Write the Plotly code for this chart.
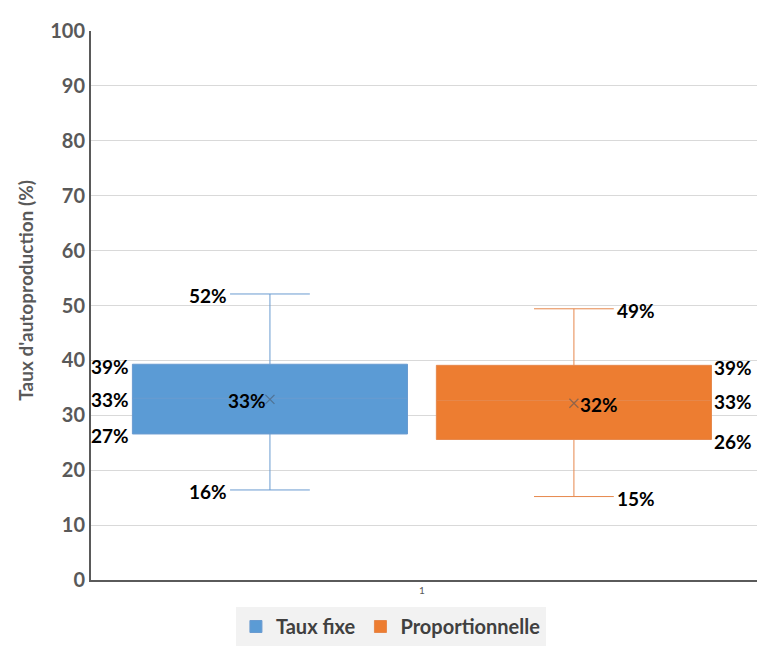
import plotly.graph_objects as go

# ---- data ----
series = ["Taux fixe", "Proportionnelle"]
category = ["1"]
lower_fence = [16.4, 15.2]
q1_vals = [26.6, 25.6]
median_vals = [33.1, 32.7]
q3_vals = [39.3, 39.1]
upper_fence = [52.1, 49.4]
mean_vals = [32.9, 32.2]
y_ticks = [0, 10, 20, 30, 40, 50, 60, 70, 80, 90, 100]
y_title = "Taux d'autoproduction (%)"

# ---- style ----
fill_colors = ["#5B9BD5", "#ED7D31"]
line_colors = ["#6a9bd0", "#e6884c"]
BOXGAP = 0.098
BOXGROUPGAP = 0.095
WHISKER = 0.29
FONT = "Lato, 'Open Sans', sans-serif"
LABEL_FONT = dict(family=FONT, size=19, color="#000000", weight="bold")
GREY = "#595959"

fig = go.Figure()
for i, name in enumerate(series):
    fig.add_trace(go.Box(
        name=name, x=category, offsetgroup=name,
        q1=[q1_vals[i]], median=[median_vals[i]], q3=[q3_vals[i]],
        lowerfence=[lower_fence[i]], upperfence=[upper_fence[i]],
        fillcolor=fill_colors[i], line=dict(color=line_colors[i], width=1),
        whiskerwidth=WHISKER, boxpoints=False, hoverinfo="skip",
    ))
for i, name in enumerate(series):
    fig.add_trace(go.Scatter(
        x=category, y=[mean_vals[i]], mode="markers", offsetgroup=name,
        marker=dict(symbol="x-thin-open", size=9, color="rgba(70,80,95,0.55)",
                    line=dict(color="rgba(70,80,95,0.55)", width=1.2)),
        showlegend=False, hoverinfo="skip",
    ))

def pct(v):
    return f"{round(v)}%"

n = len(series)
for i in range(n):
    center = 2 * 0.5 * (-0.5 + (i + 0.5) / n) * (1 - BOXGAP)
    half = 0.5 * (1 - BOXGAP) * (1 - BOXGROUPGAP) / n
    cap = half * WHISKER
    left = (i == 0)
    side = "right" if left else "left"
    for v in (upper_fence[i], lower_fence[i]):
        fig.add_annotation(x=center - cap if left else center + cap, y=v, text=pct(v),
                           xanchor=side, yanchor="middle", showarrow=False,
                           font=LABEL_FONT, xshift=-1 if left else 1, yshift=-2)
    for v, ys in ((q3_vals[i], -2), (median_vals[i], -1), (q1_vals[i], -2)):
        fig.add_annotation(x=center - half if left else center + half, y=v, text=pct(v),
                           xanchor=side, yanchor="middle", showarrow=False,
                           font=LABEL_FONT, xshift=-1 if left else 1, yshift=ys)
    fig.add_annotation(x=center, y=mean_vals[i], text=pct(mean_vals[i]),
                       xanchor=side, yanchor="middle", showarrow=False,
                       font=LABEL_FONT, xshift=-2 if left else 4, yshift=-1)

# y-axis title as a rotated annotation (slightly above the plot centre, as in the reference)
fig.add_annotation(xref="paper", yref="paper", x=-0.0964, y=0.527, text=y_title,
                   textangle=-90, showarrow=False, xanchor="center", yanchor="middle",
                   font=dict(size=19, color=GREY, family=FONT, weight="bold"))

# page body has an 8px default margin, so the figure is sized to fit the window
fig.update_layout(
    width=757, height=638,
    margin=dict(l=83, r=0, t=23, b=60),
    paper_bgcolor="white", plot_bgcolor="white",
    boxmode="group", boxgap=BOXGAP, boxgroupgap=BOXGROUPGAP,
    scattermode="group", scattergap=BOXGAP,
    showlegend=True,
    legend=dict(orientation="h", x=0.445, xanchor="center", y=-0.05, yanchor="top",
                bgcolor="#f2f2f2",
                font=dict(family=FONT, size=20, color="#404040", weight="bold"),
                itemwidth=30, tracegroupgap=0),
    font=dict(family=FONT),
)
fig.update_xaxes(type="category", range=[-0.491, 0.509], showgrid=False,
                 showline=True, linecolor="#5a5a5a", linewidth=2,
                 tickfont=dict(size=10, color=GREY), ticks="", zeroline=False, fixedrange=True)
fig.update_yaxes(range=[0, 100], tickvals=y_ticks, showgrid=True, gridcolor="#d9d9d9", gridwidth=1,
                 showline=True, linecolor="#5a5a5a", linewidth=2, zeroline=False,
                 tickfont=dict(size=20, color=GREY, family=FONT, weight="bold"),
                 ticks="")

fig.write_html("out.html")
